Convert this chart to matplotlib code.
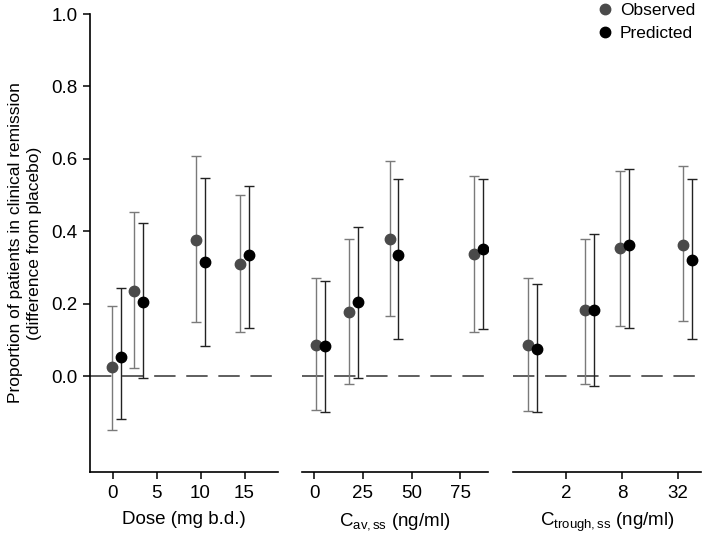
import numpy as np
import matplotlib
matplotlib.use("Agg")
import matplotlib.pyplot as plt
from matplotlib.transforms import ScaledTranslation
from matplotlib.lines import Line2D

plt.rcParams['font.family'] = ['Liberation Sans', 'DejaVu Sans']
plt.rcParams['mathtext.fontset'] = 'custom'
plt.rcParams['mathtext.rm'] = 'Liberation Sans'
plt.rcParams['mathtext.it'] = 'Liberation Sans'

# panel 1: dose
dose = [0.5, 3, 10, 15]
dose_obs = [0.024, 0.236, 0.375, 0.310]
dose_obs_lo = [-0.148, 0.023, 0.148, 0.122]
dose_obs_hi = [0.194, 0.454, 0.607, 0.499]
dose_pred = [0.054, 0.205, 0.315, 0.335]
dose_pred_lo = [-0.118, -0.004, 0.082, 0.134]
dose_pred_hi = [0.244, 0.423, 0.546, 0.524]

# panel 2: Cav,ss
cav = [3.5, 20.3, 41, 84.4]
cav_obs = [0.087, 0.178, 0.379, 0.336]
cav_obs_lo = [-0.094, -0.021, 0.166, 0.121]
cav_obs_hi = [0.270, 0.379, 0.594, 0.552]
cav_pred = [0.082, 0.204, 0.333, 0.352]
cav_pred_lo = [-0.099, -0.006, 0.103, 0.131]
cav_pred_hi = [0.263, 0.411, 0.543, 0.544]

# panel 3: Ctrough,ss
ctr = [0.87, 3.58, 8.6, 40.5]
ctr_obs = [0.085, 0.182, 0.354, 0.363]
ctr_obs_lo = [-0.096, -0.021, 0.138, 0.151]
ctr_obs_hi = [0.270, 0.379, 0.565, 0.579]
ctr_pred = [0.075, 0.182, 0.363, 0.321]
ctr_pred_lo = [-0.098, -0.028, 0.132, 0.103]
ctr_pred_hi = [0.254, 0.393, 0.573, 0.544]

obs_color = '#4a4a4a'
obs_ecolor = '#7a7a7a'
pred_color = '#000000'

fig = plt.figure(figsize=(7.09, 5.4), dpi=100)
W, H = 709.0, 540.0
bottom = 1 - 472 / H
height = (472 - 14) / H
ax1 = fig.add_axes([90 / W, bottom, (278 - 90) / W, height])
ax2 = fig.add_axes([302 / W, bottom, (488 - 302) / W, height], sharey=ax1)
ax3 = fig.add_axes([513 / W, bottom, (701 - 513) / W, height], sharey=ax1)


def draw(ax, x, obs, olo, ohi, pred, plo, phi):
    shift = 3.2 / 72
    t_obs = ax.transData + ScaledTranslation(-shift, 0, fig.dpi_scale_trans)
    t_pred = ax.transData + ScaledTranslation(shift, 0, fig.dpi_scale_trans)
    obs = np.array(obs)
    pred = np.array(pred)
    ax.axhline(0, color='#333333', lw=1.1, dashes=(14, 7), zorder=1)
    ax.errorbar(x, obs, yerr=[obs - np.array(olo), np.array(ohi) - obs],
                fmt='o', color=obs_color, ecolor=obs_ecolor, ms=7.5,
                elinewidth=1.0, capsize=3.8, capthick=1.0, transform=t_obs, zorder=3)
    ax.errorbar(x, pred, yerr=[pred - np.array(plo), np.array(phi) - pred],
                fmt='o', color=pred_color, ecolor='#222222', ms=7.5,
                elinewidth=1.0, capsize=3.8, capthick=1.0, transform=t_pred, zorder=4)


draw(ax1, dose, dose_obs, dose_obs_lo, dose_obs_hi, dose_pred, dose_pred_lo, dose_pred_hi)
draw(ax2, cav, cav_obs, cav_obs_lo, cav_obs_hi, cav_pred, cav_pred_lo, cav_pred_hi)
ax3.set_xscale('log', base=2)
draw(ax3, ctr, ctr_obs, ctr_obs_lo, ctr_obs_hi, ctr_pred, ctr_pred_lo, ctr_pred_hi)

ax1.set_ylim(-0.265, 1.0)
ax1.set_yticks([0.0, 0.2, 0.4, 0.6, 0.8, 1.0])
ax1.set_yticklabels(['0.0', '0.2', '0.4', '0.6', '0.8', '1.0'])
ax1.set_ylabel('Proportion of patients in clinical remission\n(difference from placebo)',
               fontsize=12.5, labelpad=7, linespacing=1.3)

ax1.set_xlim(-2.56, 18.8)
ax1.set_xticks([0, 5, 10, 15])
ax1.set_xlabel('Dose (mg b.d.)', fontsize=13.5, labelpad=7)

ax2.set_xlim(-6.2, 89.2)
ax2.set_xticks([0, 25, 50, 75])
ax2.set_xlabel(r'C$_{\mathrm{av,ss}}$ (ng/ml)', fontsize=13.5, labelpad=7)

ax3.set_xlim(0.54, 56.6)
ax3.set_xticks([2, 8, 32])
ax3.set_xticklabels(['2', '8', '32'])
ax3.xaxis.set_minor_locator(matplotlib.ticker.NullLocator())
ax3.set_xlabel(r'C$_{\mathrm{trough,ss}}$ (ng/ml)', fontsize=13.5, labelpad=7)

for ax in (ax1, ax2, ax3):
    ax.spines['top'].set_visible(False)
    ax.spines['right'].set_visible(False)
    ax.spines['bottom'].set_linewidth(1.2)
    ax.spines['left'].set_linewidth(1.2)
    ax.tick_params(direction='out', length=5, width=1.1, labelsize=13.5, pad=4)
    ax.set_facecolor('none')
for ax in (ax2, ax3):
    ax.spines['left'].set_visible(False)
    ax.tick_params(axis='y', left=False, labelleft=False)

handles = [Line2D([], [], marker='o', ls='none', color=obs_color, ms=7.5),
           Line2D([], [], marker='o', ls='none', color=pred_color, ms=7.5)]
fig.legend(handles, ['Observed', 'Predicted'], loc='upper right', frameon=False,
           fontsize=12.5, handletextpad=0.35, borderaxespad=0.0, borderpad=0.0,
           labelspacing=0.45, bbox_to_anchor=(695 / W, 0.995), handlelength=1.0)

fig.savefig('out.png', dpi=100)
